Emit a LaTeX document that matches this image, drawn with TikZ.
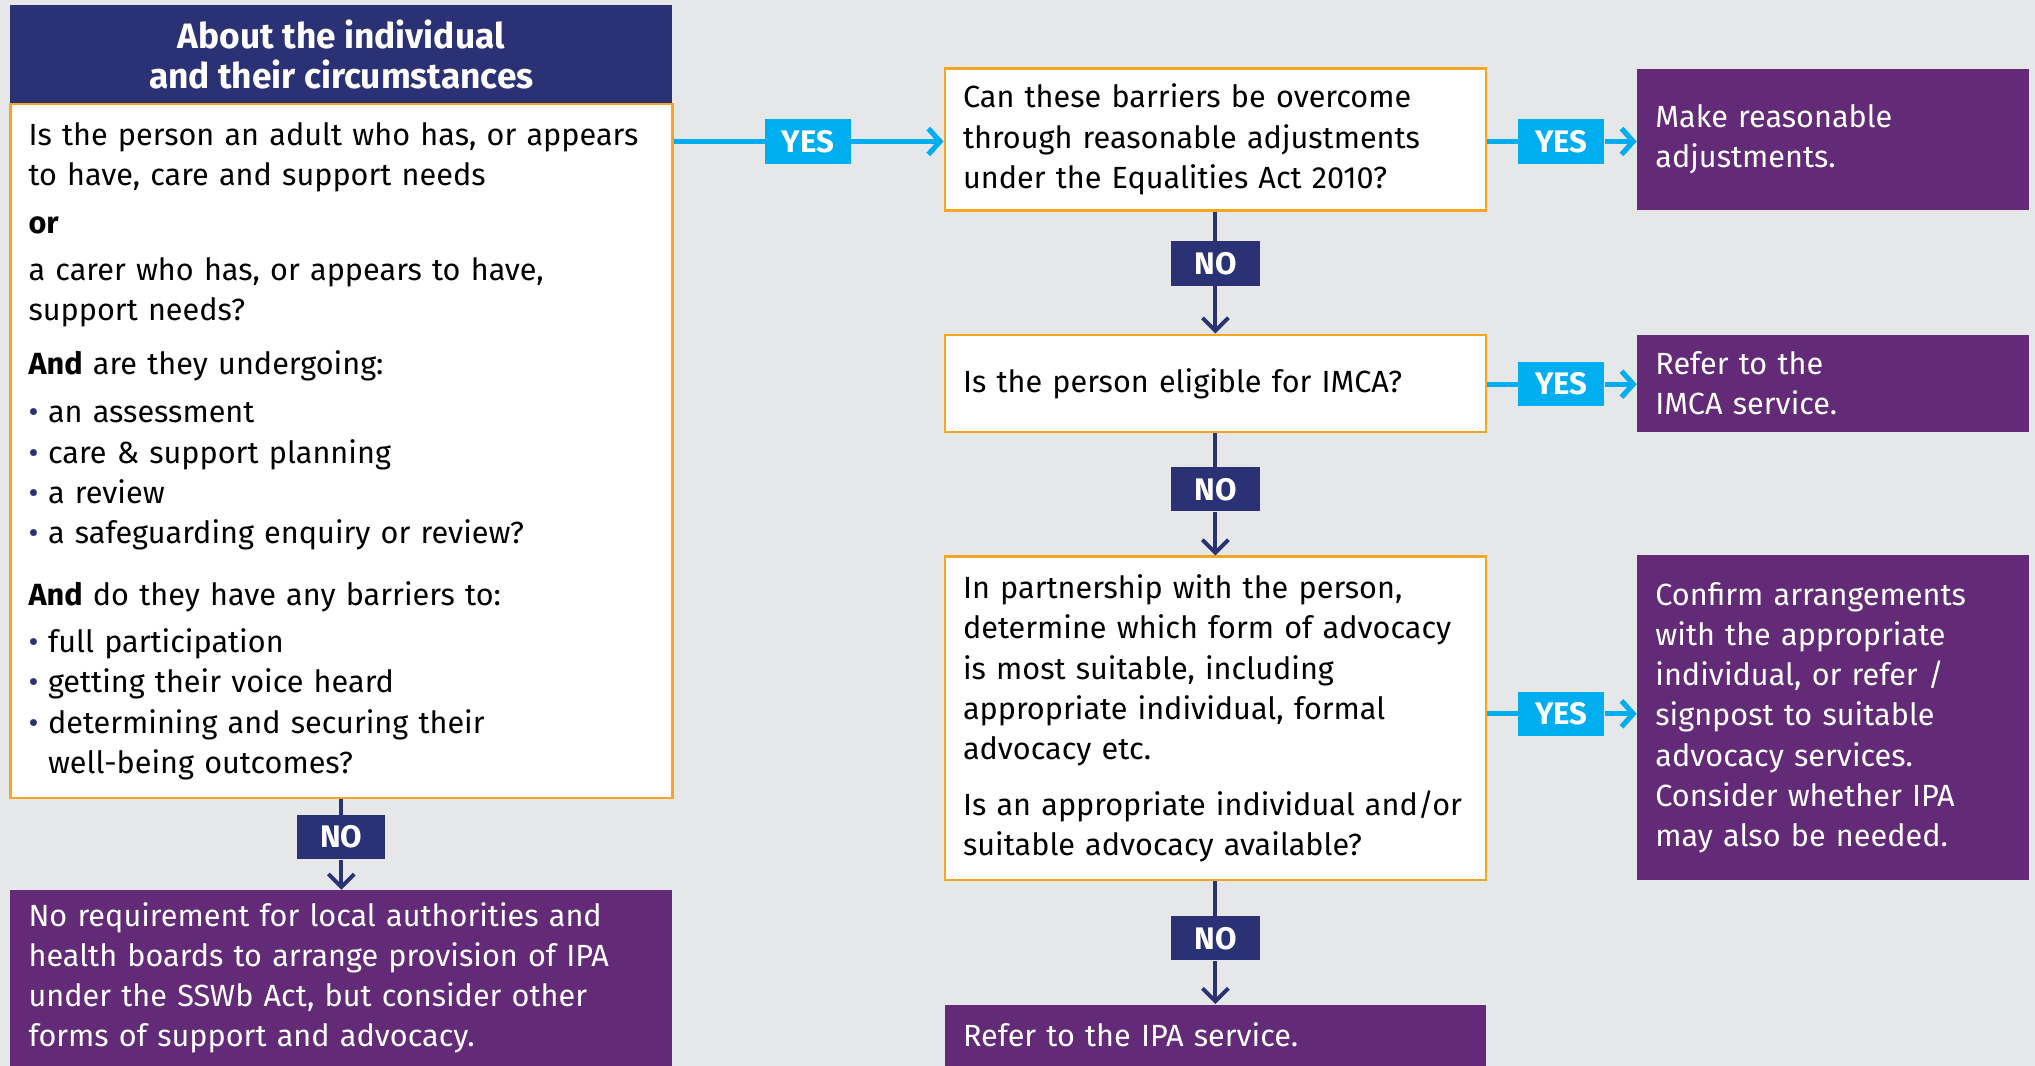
\documentclass[tikz,border=0pt]{standalone}
\usepackage{fontspec}
\setmainfont{Fira Sans}
\usetikzlibrary{arrows.meta}
\definecolor{navy}{HTML}{2B3175}
\definecolor{plum}{HTML}{632A77}
\definecolor{sky}{HTML}{00AEEF}
\definecolor{amber}{HTML}{F6A623}
\definecolor{paper}{HTML}{E6E7E9}
\newcommand{\bul}{\makebox[7.5pt][l]{\textcolor{navy}{\textbullet}}}
\begin{document}
\begin{tikzpicture}[x=1pt,y=1pt,
  question/.style={draw=amber, line width=1pt, fill=white, align=left, inner xsep=7pt, inner ysep=0pt, font=\fontsize{11.8}{15.5}\selectfont},
  answer/.style={fill=plum, text=white, align=left, inner xsep=7pt, inner ysep=0pt, font=\fontsize{11.8}{15.5}\selectfont},
  yeslab/.style={fill=sky, text=white, font=\bfseries\fontsize{12}{14}\selectfont, minimum width=33pt, minimum height=17pt, inner sep=0pt},
  nolab/.style={fill=navy, text=white, font=\bfseries\fontsize{12}{14}\selectfont, minimum width=34pt, minimum height=17pt, inner sep=0pt},
  yesline/.style={sky, line width=2pt},
  noline/.style={navy, line width=1.5pt},
  yestip/.style={-{Straight Barb[length=4.5pt,width=10pt]}},
  notip/.style={-{Straight Barb[length=5pt,width=10pt]}}]
\useasboundingbox (0,0) rectangle (784,-410.5);
\fill[paper] (0,0) rectangle (784,-410.5);
\node[fill=navy, text=white, align=center, minimum width=255pt, minimum height=38pt, inner sep=0pt, font=\bfseries\fontsize{13.6}{15.5}\selectfont] (head) at (131.5,-21) {About the individual\\and their circumstances};
\node[question, text width=241pt, minimum height=267.5pt] (q0) at (131.5,-173.75) {Is the person an adult who has, or appears\\
to have, care and support needs\\[3pt]
\textbf{or}\\[2.5pt]
a carer who has, or appears to have,\\
support needs?\\[5.5pt]
\textbf{And} are they undergoing:\\[3pt]
\bul an assessment\\
\bul care \& support planning\\
\bul a review\\
\bul a safeguarding enquiry or review?\\[8.5pt]
\textbf{And} do they have any barriers to:\\[2.5pt]
\bul full participation\\
\bul getting their voice heard\\
\bul determining and securing their\\
\hspace*{7.5pt}well-being outcomes?};
\node[nolab] (no0) at (131.5,-322.5) {NO};
\node[answer, text width=241pt, minimum height=67.5pt] (r0) at (131.5,-376.75) {No requirement for local authorities and\\
health boards to arrange provision of IPA\\
under the SSWb Act, but consider other\\
forms of support and advocacy.};
\node[yeslab] (yes0) at (311.25,-54.5) {YES};
\node[question, text width=194.5pt, minimum height=54.5pt] (q1) at (468.25,-53.75) {Can these barriers be overcome\\
through reasonable adjustments\\
under the Equalities Act 2010?};
\node[yeslab] (yes1) at (601.5,-54.5) {YES};
\node[answer, text width=137pt, minimum height=54.5pt] (r1) at (706.25,-53.75) {Make reasonable\\adjustments.};
\node[nolab] (no1) at (468.25,-101.5) {NO};
\node[question, text width=194.5pt, minimum height=37.5pt] (q2) at (468.25,-147.75) {Is the person eligible for IMCA?};
\node[yeslab] (yes2) at (601.5,-148) {YES};
\node[answer, text width=137pt, minimum height=37.5pt] (r2) at (706.25,-147.75) {Refer to the\\IMCA service.};
\node[nolab] (no2) at (468.25,-188.5) {NO};
\node[question, text width=194.5pt, minimum height=124.5pt] (q3) at (468.25,-276.75) {In partnership with the person,\\
determine which form of advocacy\\
is most suitable, including\\
appropriate individual, formal\\
advocacy etc.\\[6pt]
Is an appropriate individual and/or\\
suitable advocacy available?};
\node[yeslab] (yes3) at (601.5,-275) {YES};
\node[answer, text width=137pt, minimum height=125pt] (r3) at (706.25,-276.5) {Confirm arrangements\\
with the appropriate\\
individual, or refer /\\
signpost to suitable\\
advocacy services.\\
Consider whether IPA\\
may also be needed.};
\node[nolab] (no3) at (468.25,-361.5) {NO};
\node[answer, text width=194.5pt, minimum height=23.5pt] (r4) at (468.25,-398.75) {Refer to the IPA service.};
\draw[yesline] (q0.east |- yes0) -- (yes0.west);
\draw[yesline, yestip] (yes0.east) -- (yes0.east -| q1.west);
\draw[yesline] (q1.east |- yes1) -- (yes1.west);
\draw[yesline, yestip] (yes1.east) -- (yes1.east -| r1.west);
\draw[yesline] (q2.east |- yes2) -- (yes2.west);
\draw[yesline, yestip] (yes2.east) -- (yes2.east -| r2.west);
\draw[yesline] (q3.east |- yes3) -- (yes3.west);
\draw[yesline, yestip] (yes3.east) -- (yes3.east -| r3.west);
\draw[noline] (q0.south) -- (no0.north);
\draw[noline, notip] (no0.south) -- (r0.north);
\draw[noline] (q1.south) -- (no1.north);
\draw[noline, notip] (no1.south) -- (q2.north);
\draw[noline] (q2.south) -- (no2.north);
\draw[noline, notip] (no2.south) -- (q3.north);
\draw[noline] (q3.south) -- (no3.north);
\draw[noline, notip] (no3.south) -- (r4.north);
\end{tikzpicture}
\end{document}
